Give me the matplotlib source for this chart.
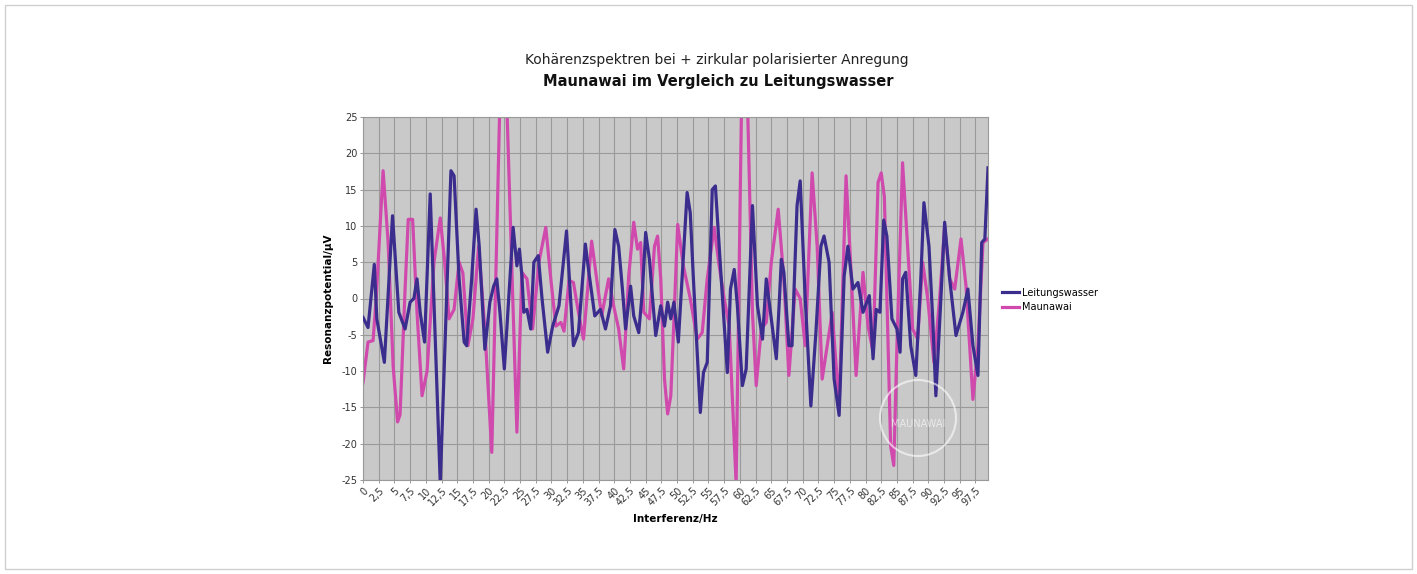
import matplotlib
matplotlib.use("Agg")
import matplotlib.pyplot as plt
from matplotlib.patches import Rectangle, Ellipse
from matplotlib.lines import Line2D

# ---- data ----
hz_leitung = [0.0, 0.8, 1.8, 2.2, 3.4, 4.7, 5.7, 6.7, 7.5, 8.1, 8.6, 9.1, 9.8, 10.7, 12.3,
              14.0, 14.5, 15.3, 16.1, 16.5, 17.3, 18.0, 18.5, 19.4, 20.2, 20.8, 21.3, 21.8,
              22.5, 23.9, 24.5, 24.9, 25.3, 25.6, 26.1, 26.7, 27.2, 27.9, 28.5, 29.4, 30.2,
              31.2, 32.4, 33.5, 34.3, 35.4, 35.9, 36.9, 37.8, 38.6, 39.4, 40.1, 40.7, 41.3,
              41.8, 42.6, 43.1, 43.9, 44.5, 45.0, 45.6, 46.1, 46.6, 47.4, 48.0, 48.5, 49.0,
              49.5, 50.2, 51.6, 52.1, 52.6, 53.7, 54.2, 54.8, 55.6, 56.1, 56.9, 58.0, 58.5,
              59.1, 59.6, 60.4, 61.0, 62.0, 62.8, 63.6, 64.2, 65.0, 65.8, 66.3, 66.6, 67.0,
              67.8, 68.3, 69.1, 69.6, 70.4, 71.3, 72.1, 72.9, 73.4, 74.2, 75.0, 75.8, 76.6,
              77.2, 78.0, 78.8, 79.6, 80.6, 81.2, 81.7, 82.3, 82.9, 83.4, 84.2, 85.0, 85.5,
              85.9, 86.4, 87.2, 88.0, 88.8, 89.3, 90.1, 90.7, 91.2, 92.0, 92.6, 93.4, 94.4,
              95.5, 96.3, 97.1, 97.9, 98.5, 99.0, 99.5]
leitungswasser = [-2.6, -4.0, 4.7, -2.8, -8.8, 11.4, -1.9, -4.2, -0.5, 0.0, 2.7, -1.9, -6.0, 14.4, -25.5,
                  17.6, 16.9, 2.7, -6.0, -6.5, 2.7, 12.3, 7.2, -7.0, -0.5, 1.7, 2.7, -1.9,
                  -9.7, 9.8, 4.5, 6.8, 3.1, -1.9, -1.5, -4.2, 5.0, 5.9, 0.0, -7.4, -3.8,
                  -1.0, 9.3, -6.5, -4.7, 7.5, 4.0, -2.4, -1.5, -4.2, -1.0, 9.5, 7.2, 1.3,
                  -4.2, 1.7, -2.4, -4.7, 1.3, 9.1, 5.4, 0.0, -5.1, -1.0, -3.8, -0.5, -2.8,
                  -0.5, -6.0, 14.6, 11.8, 2.7, -15.7, -10.2, -8.8, 15.0, 15.5, 4.5, -10.2, 1.3,
                  4.0, -1.0, -12.0, -9.7, 12.8, -1.0, -5.6, 2.7, -2.8, -8.3, 0.0, 5.4, 3.6,
                  -6.5, -6.5, 12.8, 16.2, 0.0, -14.8, -4.7, 7.2, 8.6, 5.0, -11.1, -16.1, 3.1,
                  7.2, 1.3, 2.2, -1.9, 0.4, -8.3, -1.5, -1.9, 10.8, 8.6, -2.8, -4.2, -7.4,
                  2.7, 3.6, -6.5, -10.6, 2.7, 13.2, 7.2, -2.8, -13.4, 0.0, 10.5, 2.7, -5.1,
                  -1.9, 1.3, -6.5, -10.6, 7.7, 8.2, 18.0]

hz_maunawai = [0.0, 0.8, 1.6, 2.1, 3.2, 4.0, 4.8, 5.5, 5.9, 6.7, 7.2, 7.9, 8.6, 9.4, 10.2,
               11.3, 12.3, 13.0, 13.7, 14.5, 15.3, 15.9, 16.7, 17.5, 18.4, 19.4, 20.5, 22.0,
               22.6, 24.5, 25.3, 26.1, 27.0, 28.0, 29.1, 29.9, 30.7, 31.5, 32.0, 32.8, 33.5,
               34.3, 35.1, 36.4, 37.2, 38.0, 39.1, 39.9, 40.7, 41.5, 42.3, 43.1, 43.7, 44.2,
               44.7, 45.6, 46.4, 46.9, 47.4, 48.0, 48.5, 49.0, 49.5, 50.1, 51.0, 52.1, 53.2,
               54.0, 54.8, 55.9, 56.7, 57.5, 58.3, 59.4, 60.4, 61.0, 62.0, 62.6, 63.4, 64.2,
               65.0, 66.1, 67.0, 67.8, 68.8, 69.6, 70.4, 71.5, 72.3, 73.1, 73.9, 74.7, 75.8,
               76.9, 77.7, 78.5, 79.6, 80.4, 81.2, 82.0, 82.5, 83.0, 84.0, 84.5, 85.0, 85.9,
               86.7, 87.5, 88.3, 89.1, 89.9, 90.9, 91.8, 92.6, 93.4, 94.2, 95.2, 96.0, 97.1,
               97.9, 98.7, 99.5]
maunawai = [-11.6, -6.0, -5.8, 0.0, 17.6, 7.7, -9.3, -17.0, -16.0, 1.3, 10.9, 10.9, -1.9, -13.4, -10.0,
            5.0, 11.1, 5.0, -2.8, -1.5, 5.0, 3.5, -6.5, -2.8, 7.2, -4.2, -21.2, 35.0,
            35.0, -18.4, 3.6, 2.7, -4.2, 5.0, 9.8, 2.7, -3.8, -3.3, -4.5, 2.5, 2.2,
            -1.9, -5.6, 7.9, 2.7, -2.4, 2.7, -1.0, -4.2, -9.7, 3.1, 10.5, 6.8, 7.7,
            -1.9, -2.8, 7.2, 8.6, 2.7, -11.1, -15.9, -13.4, -3.0, 10.2, 4.5, 0.0, -5.6,
            -4.7, 2.7, 9.8, 4.5, 0.0, -3.8, -25.5, 35.0, 35.0, -1.9, -12.0, -4.2, -3.3,
            5.0, 12.3, 2.7, -10.6, 1.3, 0.0, -6.5, 17.3, 7.2, -11.1, -6.5, -1.9, -14.8,
            16.9, 3.6, -10.6, 3.6, -3.8, -7.4, 16.0, 17.3, 14.0, -20.3, -23.0, -6.5, 18.7,
            7.2, -4.2, -5.6, 5.0, 0.0, -8.8, 0.0, 10.0, 2.7, 1.3, 8.2, 1.7, -13.9,
            -6.5, 7.7, 8.2]

x_ticks = [i * 2.5 for i in range(40)]
x_labels = [("%g" % v).replace(".", ",") for v in x_ticks]
y_ticks = list(range(-25, 30, 5))

title_line1 = "Kohärenzspektren bei + zirkular polarisierter Anregung"
title_line2 = "Maunawai im Vergleich zu Leitungswasser"
x_title = "Interferenz/Hz"
y_title = "Resonanzpotential/µV"
series_names = ["Leitungswasser", "Maunawai"]

# ---- styling ----
W, H = 1417, 574
c_blue = "#3b2d8e"
c_pink = "#d04aae"

fig = plt.figure(figsize=(W / 100, H / 100), dpi=100)
fig.patch.set_facecolor("white")

# outer thin frame
fig.patches.append(Rectangle((5 / W, 5 / H), 1 - 10 / W, 1 - 10 / H, transform=fig.transFigure,
                             fill=False, edgecolor="#cfcfcf", linewidth=1.0))

ax = fig.add_axes([363 / W, 1 - 480 / H, (988 - 363) / W, (480 - 117) / H])
ax.set_facecolor("#c9c9c9")

ax.plot(hz_leitung, leitungswasser, color=c_blue, linewidth=2.3, solid_joinstyle="round", zorder=3)
ax.plot(hz_maunawai, maunawai, color=c_pink, linewidth=2.3, solid_joinstyle="round", zorder=2)

ax.set_xlim(0, 99.5)
ax.set_ylim(-25, 25)
ax.set_xticks(x_ticks)
ax.set_xticklabels(x_labels, rotation=45, ha="right", va="top", rotation_mode="anchor",
                   fontsize=7, color="#333333")
ax.set_yticks(y_ticks)
ax.set_yticklabels([str(v) for v in y_ticks], fontsize=7, color="#333333")
ax.tick_params(axis="both", length=2, width=0.6, color="#888888", pad=2)
ax.grid(True, color="#9a9a9a", linewidth=0.8)
ax.set_axisbelow(True)
for s in ax.spines.values():
    s.set_color("#9a9a9a")
    s.set_linewidth(0.8)

ax.set_xlabel(x_title, fontsize=7.5, fontweight="bold", labelpad=4)
ax.set_ylabel(y_title, fontsize=7.5, fontweight="bold", labelpad=6)

fig.text(717 / W, 1 - 60 / H, title_line1, ha="center", va="center", fontsize=10, color="#222222")
fig.text(718 / W, 1 - 82 / H, title_line2, ha="center", va="center", fontsize=10.5,
         fontweight="bold", color="#111111")

# legend
handles = [Line2D([], [], color=c_blue, linewidth=2.3), Line2D([], [], color=c_pink, linewidth=2.3)]
fig.legend(handles, series_names, loc="center left", bbox_to_anchor=(993 / W, 1 - 300 / H),
           frameon=False, fontsize=7, handlelength=1.8, handletextpad=0.3, labelspacing=0.45)

# faint watermark logo
fig.patches.append(Ellipse((918 / W, 1 - 418 / H), 76 / W, 76 / H, transform=fig.transFigure,
                           fill=False, edgecolor="white", linewidth=1.5, alpha=0.6, zorder=5))
fig.text(918 / W, 1 - 424 / H, "MAUNAWAI", ha="center", va="center", fontsize=7,
         color="white", alpha=0.6)

fig.savefig("out.png", dpi=100)
